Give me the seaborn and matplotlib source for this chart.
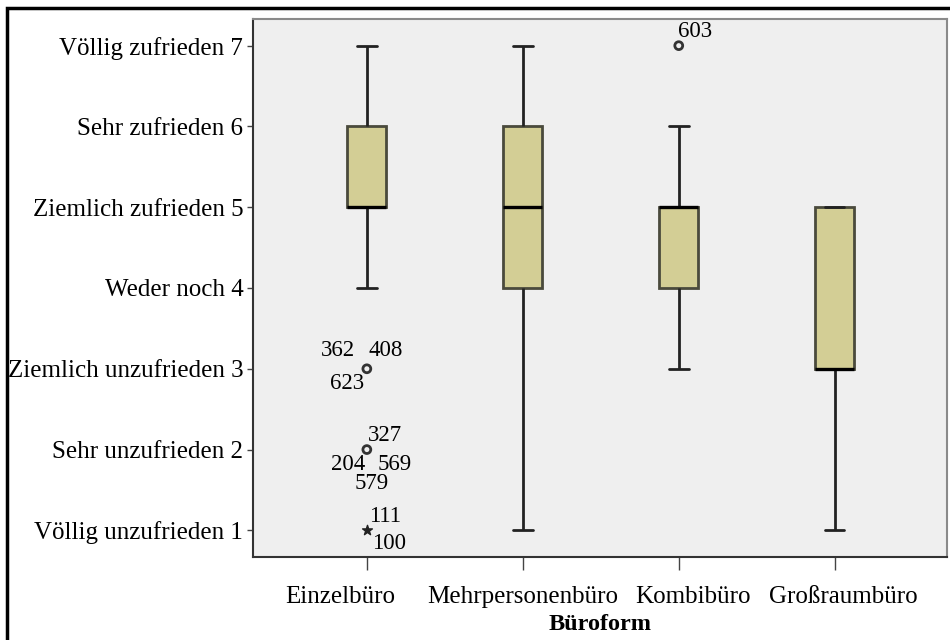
import matplotlib
matplotlib.use("Agg")
import matplotlib.pyplot as plt
import matplotlib.transforms as mtransforms
import seaborn as sns
import pandas as pd
from matplotlib.patches import Rectangle

# ---- data ----
categories = ["Einzelbüro", "Mehrpersonenbüro", "Kombibüro", "Großraumbüro"]
einzel = [1, 2, 3, 4, 5, 5, 5, 5, 5, 5, 6, 6, 6, 6, 6, 7, 7]
mehr = [1, 4, 4, 4, 5, 5, 5, 6, 6, 6, 7]
kombi = [3, 4, 4, 4, 5, 5, 5, 5, 5, 6, 7]
gross = [1, 3, 3, 3, 3, 4, 5, 5, 5]

ytick_vals = [1, 2, 3, 4, 5, 6, 7]
ytick_labels = ["Völlig unzufrieden 1", "Sehr unzufrieden 2", "Ziemlich unzufrieden 3",
                "Weder noch 4", "Ziemlich zufrieden 5", "Sehr zufrieden 6", "Völlig zufrieden 7"]

outlier_cat = ["Einzelbüro", "Einzelbüro", "Kombibüro"]
outlier_val = [3, 2, 7]
extreme_cat = ["Einzelbüro"]
extreme_val = [1]

# labels: (category, value, text)
label_cat = ["Einzelbüro"] * 9 + ["Kombibüro"]
label_val = [3, 3, 3, 2, 2, 2, 2, 1, 1, 7]
label_txt = ["362", "408", "623", "327", "204", "569", "579", "111", "100", "603"]

df = pd.DataFrame({
    "Büroform": [categories[0]] * len(einzel) + [categories[1]] * len(mehr)
                + [categories[2]] * len(kombi) + [categories[3]] * len(gross),
    "Zufriedenheit": einzel + mehr + kombi + gross,
})

# ---- style ----
sns.set_style("white")
plt.rcParams["font.family"] = ["Liberation Serif", "DejaVu Serif"]
plt.rcParams["font.size"] = 18
plt.rcParams["text.color"] = "black"
plt.rcParams["axes.labelcolor"] = "black"
plt.rcParams["xtick.color"] = "black"
plt.rcParams["ytick.color"] = "black"

fig = plt.figure(figsize=(9.5, 6.4), dpi=100)
ax = fig.add_axes([253 / 950, 1 - 557 / 640, (947 - 253) / 950, (557 - 19) / 640])
ax.set_facecolor("#efefef")

edge = "#222222"
sns.boxplot(data=df, x="Büroform", y="Zufriedenheit", order=categories, ax=ax,
            width=0.25, color="#d3ce95", showfliers=False, whis=1.5,
            linewidth=2.0, linecolor=edge, saturation=1,
            medianprops={"color": "black", "linewidth": 2.4},
            boxprops={"edgecolor": "#4a4a3c"})

pos = {c: i for i, c in enumerate(categories)}
ax.scatter([pos[c] for c in outlier_cat], outlier_val, s=32, facecolor="none",
           edgecolor="#333333", linewidth=2.0, zorder=5)
ax.scatter([pos[c] for c in extreme_cat], extreme_val, s=55, marker="*",
           color="#222222", zorder=5)

offsets = {
    "362": (-29, 18), "408": (19, 18), "623": (-20, -15),
    "327": (18, 14), "204": (-19, -15), "569": (28, -15), "579": (5, -34),
    "111": (18, 14), "100": (22, -13), "603": (16, 14),
}
for c, v, t in zip(label_cat, label_val, label_txt):
    ax.annotate(t, (pos[c], v), xytext=offsets[t], textcoords="offset pixels",
                ha="center", va="center", fontsize=16.5, color="black")

ax.set_xlim(-0.73, 3.72)
ax.set_ylim(0.67, 7.33)
ax.set_yticks(ytick_vals)
ax.set_yticklabels(ytick_labels, fontsize=18)
ax.set_xticks(range(len(categories)))
ax.set_xticklabels(categories, fontsize=18)
ax.set_ylabel("")
ax.set_xlabel("Büroform", fontsize=17.5, fontweight="bold", labelpad=4)
ax.tick_params(axis="y", length=4, width=1, color="#444444", pad=3, left=True)
ax.tick_params(axis="x", length=9, width=1, color="#444444", pad=12, bottom=True)

# the reference's category labels sit slightly off their ticks
label_shift_px = [-27, 0, 14, 9]
for lab, dx in zip(ax.get_xticklabels(), label_shift_px):
    lab.set_transform(lab.get_transform() +
                      mtransforms.ScaledTranslation(dx / 100, 0, fig.dpi_scale_trans))

for s in ["top", "right"]:
    ax.spines[s].set_color("#8a8a8a")
    ax.spines[s].set_linewidth(1.5)
for s in ["left", "bottom"]:
    ax.spines[s].set_color("#333333")
    ax.spines[s].set_linewidth(1.5)

# outer border
fig.patches.append(Rectangle((7 / 950, -0.01), 1.1, 1 - 8 / 640 + 0.01,
                             transform=fig.transFigure, fill=False,
                             edgecolor="black", linewidth=2.5, zorder=10))

fig.savefig("out.png", dpi=100)
